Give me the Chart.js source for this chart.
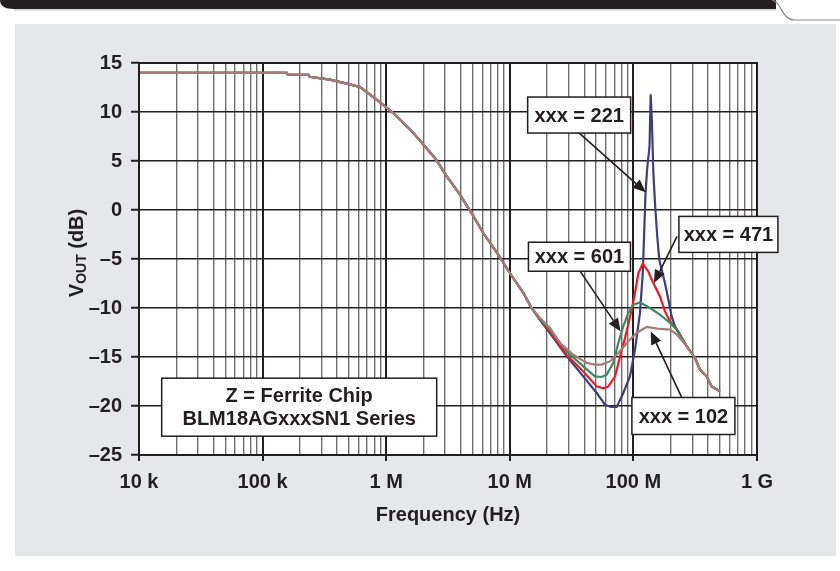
<!DOCTYPE html>
<html>
<head>
<meta charset="utf-8">
<title>VOUT vs Frequency - BLM18AG ferrite chips</title>
<script src="https://cdn.jsdelivr.net/npm/chart.js@4.4.1/dist/chart.umd.min.js"></script>
<style>
  html, body { margin: 0; padding: 0; background: #fff; }
  #page { position: relative; width: 840px; height: 571px; overflow: hidden; }
  #panel { position: absolute; left: 15px; top: 24px; width: 821px; height: 532px; background: #e6e7e8; }
  #topbar { position: absolute; left: 0; top: 0; }
  #chart { position: absolute; left: 0; top: 0; }
</style>
</head>
<body>
<div id="page">
  <svg id="topbar" width="840" height="24">
    <path d="M0,0 H776 V9 H14 Q0,9 0,0 Z" fill="#231f20"/>
    <line x1="14" y1="10" x2="776" y2="10" stroke="#b4b4b4" stroke-width="1"/>
    <path d="M772,0 C781,1 782,20 794,20 H840" fill="none" stroke="#8a8a8a" stroke-width="1.2"/>
  </svg>
  <div id="panel"></div>
  <canvas id="chart" width="840" height="571"></canvas>
</div>
<script>
// Output level vs. frequency for four ferrite chips (BLM18AGxxxSN1 series)

const INK = '#231f20';
const FONT = '"Liberation Sans", Arial, Helvetica, sans-serif';

// axis ticks
const xTickValues = [1e4, 1e5, 1e6, 1e7, 1e8, 1e9];
const xTickLabels = ['10 k', '100 k', '1 M', '10 M', '100 M', '1 G'];
const yTickValues = [-25, -20, -15, -10, -5, 0, 5, 10, 15];

// shared low-frequency roll-off (all four curves lie on top of each other here)
const rolloffFreq = [1e4, 1.57e5, 1.6e5, 2.35e5, 2.4e5, 3.5e5, 4.8e5, 6.14e5, 8.38e5, 1.14e6,
  1.66e6, 2.48e6, 3.09e6, 3.95e6, 4.9e6, 6.1e6, 8.07e6, 1.0e7, 1.29e7, 1.5e7];
const rolloffDb = [14.0, 14.0, 13.8, 13.8, 13.6, 13.3, 12.9, 12.55, 11.26, 9.89,
  7.86, 5.31, 3.43, 1.56, -0.31, -2.35, -4.56, -6.43, -8.47, -10.0];

// shared high-frequency tail
const tailFreq = [2.7e8, 3.15e8, 3.46e8, 3.92e8, 4.3e8, 5.01e8];
const tailDb = [-13.9, -15.1, -16.3, -17.0, -18.0, -18.5];

// resonance region, per part number
const freq221 = [17.5e6, 21.1e6, 28.8e6, 39.3e6, 50.5e6, 58.9e6, 66e6, 73.3e6, 82.8e6, 93.8e6,
  103e6, 113e6, 119e6, 122.5e6, 125e6, 129e6, 135e6, 138e6, 141e6, 143e6,
  145e6, 150e6, 156e6, 162e6, 180e6, 192e6, 204e6, 217e6, 231e6];
const db221 = [-11.2, -12.55, -14.9, -16.98, -18.67, -19.87, -20.1, -20.1, -18.67, -16.98,
  -14.26, -10.5, -6.5, -2.0, 1.4, 4.1, 6.5, 11.8, 9.2, 6.5,
  3.8, 0.4, -2.7, -5.1, -7.45, -9.15, -10.86, -11.87, -12.4];

const freq471 = [17.5e6, 21.1e6, 28.8e6, 39.3e6, 50.5e6, 57.1e6, 62.7e6, 71e6, 78e6, 85.5e6,
  96.9e6, 103e6, 109.7e6, 119e6, 132e6, 145e6, 164e6, 180e6, 198e6, 224e6];
const db471 = [-11.15, -12.4, -14.77, -16.47, -18.0, -18.2, -18.0, -17.0, -14.94, -13.06,
  -10.17, -8.47, -6.43, -5.48, -6.27, -7.45, -8.82, -10.35, -11.37, -12.2];

const freq601 = [17.5e6, 21.1e6, 28.8e6, 39.3e6, 48.9e6, 55.3e6, 60.8e6, 68.8e6, 75.5e6, 82.8e6,
  91e6, 99.8e6, 113e6, 136e6, 164e6, 198e6, 224e6];
const db601 = [-11.1, -12.2, -14.43, -15.96, -16.98, -17.04, -16.8, -15.6, -13.57, -11.87,
  -10.5, -9.66, -9.43, -10.0, -10.68, -11.53, -12.2];

const freq102 = [17.5e6, 21.1e6, 25.5e6, 32.7e6, 41.9e6, 48.9e6, 55.3e6, 64.6e6, 75.5e6, 91e6,
  106e6, 128e6, 164e6, 198e6, 224e6];
const db102 = [-11.0, -12.0, -13.57, -14.77, -15.6, -15.78, -15.78, -15.45, -14.6, -13.4,
  -12.55, -11.94, -12.14, -12.2, -12.7];

// callout boxes, placed in data coordinates (frequency, dB)
const callouts = [
  { lines: ['xxx = 221'], center: [36.4e6, 9.69], w: 103, h: 36, from: [36.3e6, 7.86], tip: [125.8e6, 1.8] },
  { lines: ['xxx = 471'], center: [587e6, -2.49], w: 99, h: 36, from: [225.4e6, -2.69], tip: [146.9e6, -7.45] },
  { lines: ['xxx = 601'], center: [36.6e6, -4.77], w: 102, h: 29, from: [36.7e6, -6.16], tip: [78.9e6, -12.39] },
  { lines: ['xxx = 102'], center: [253.8e6, -21.02], w: 103, h: 37, from: [246e6, -19.12], tip: [138e6, -12.39] },
  { lines: ['Z = Ferrite Chip', 'BLM18AGxxxSN1 Series'], center: [197.7e3, -20.12], w: 275, h: 58 }
];

function buildSeries(freq, db) {
  const f = rolloffFreq.concat(freq, tailFreq);
  const v = rolloffDb.concat(db, tailDb);
  return f.map((x, i) => ({ x: x, y: v[i] }));
}

function isDecade(v) {
  const l = Math.log10(v);
  return Math.abs(l - Math.round(l)) < 1e-6;
}

// every 1..9 multiple inside the decades, used only for the grid
function logGridValues() {
  const vals = [];
  for (let d = 4; d < 9; d++) {
    for (let m = 1; m < 10; m++) vals.push(m * Math.pow(10, d));
  }
  vals.push(1e9);
  return vals;
}

// white plot background, frame, axis titles and callouts
const decorPlugin = {
  id: 'decor',
  beforeDraw(chart) {
    const { ctx, chartArea: a } = chart;
    ctx.save();
    ctx.fillStyle = '#fff';
    ctx.fillRect(a.left, a.top, a.right - a.left, a.bottom - a.top);
    ctx.restore();
  },
  afterDraw(chart) {
    const { ctx, chartArea: a, scales } = chart;
    const sx = scales.x, sy = scales.y;
    ctx.save();

    // frame
    ctx.strokeStyle = INK;
    ctx.lineWidth = 2;
    ctx.strokeRect(a.left, a.top, a.right - a.left, a.bottom - a.top);

    // x title
    ctx.fillStyle = INK;
    ctx.font = 'bold 20px ' + FONT;
    ctx.textAlign = 'center';
    ctx.textBaseline = 'middle';
    ctx.fillText('Frequency (Hz)', (a.left + a.right) / 2, 515);

    // y title with subscript
    ctx.save();
    ctx.translate(83, 253);
    ctx.rotate(-Math.PI / 2);
    ctx.textAlign = 'left';
    ctx.textBaseline = 'alphabetic';
    const big = 'bold 20px ' + FONT, small = 'bold 14px ' + FONT;
    ctx.font = big; const wV = ctx.measureText('V').width;
    ctx.font = small; const wSub = ctx.measureText('OUT').width;
    ctx.font = big; const wRest = ctx.measureText(' (dB)').width;
    let x0 = -(wV + wSub + wRest) / 2;
    ctx.font = big; ctx.fillText('V', x0, 0);
    ctx.font = small; ctx.fillText('OUT', x0 + wV, 3);
    ctx.font = big; ctx.fillText(' (dB)', x0 + wV + wSub, 0);
    ctx.restore();

    // arrows
    callouts.forEach(c => {
      if (!c.tip) return;
      const x1 = sx.getPixelForValue(c.from[0]), y1 = sy.getPixelForValue(c.from[1]);
      const x2 = sx.getPixelForValue(c.tip[0]), y2 = sy.getPixelForValue(c.tip[1]);
      const ang = Math.atan2(y2 - y1, x2 - x1);
      const headLen = 13, headW = 5.5;
      const bx = x2 - headLen * Math.cos(ang), by = y2 - headLen * Math.sin(ang);
      ctx.strokeStyle = INK;
      ctx.lineWidth = 1.6;
      ctx.beginPath();
      ctx.moveTo(x1, y1);
      ctx.lineTo(bx, by);
      ctx.stroke();
      ctx.fillStyle = INK;
      ctx.beginPath();
      ctx.moveTo(x2, y2);
      ctx.lineTo(bx + headW * Math.sin(ang), by - headW * Math.cos(ang));
      ctx.lineTo(bx - headW * Math.sin(ang), by + headW * Math.cos(ang));
      ctx.closePath();
      ctx.fill();
    });

    // boxes
    callouts.forEach(c => {
      const cx = sx.getPixelForValue(c.center[0]), cy = sy.getPixelForValue(c.center[1]);
      ctx.fillStyle = '#fff';
      ctx.fillRect(cx - c.w / 2, cy - c.h / 2, c.w, c.h);
      ctx.strokeStyle = INK;
      ctx.lineWidth = 1.5;
      ctx.strokeRect(cx - c.w / 2, cy - c.h / 2, c.w, c.h);
      ctx.fillStyle = INK;
      ctx.font = 'bold 20px ' + FONT;
      ctx.textAlign = 'center';
      ctx.textBaseline = 'middle';
      const lh = 23;
      c.lines.forEach((t, i) => {
        ctx.fillText(t, cx, cy + 1 + (i - (c.lines.length - 1) / 2) * lh);
      });
    });
    ctx.restore();
  }
};

function lineDataset(label, data, color) {
  return {
    label: label,
    data: data,
    borderColor: color,
    backgroundColor: color,
    borderWidth: 2.2,
    pointRadius: 0,
    tension: 0,
    fill: false
  };
}

function createChart() {
  new Chart(document.getElementById('chart'), {
    type: 'line',
    data: {
      datasets: [
        // first dataset is painted last, so the brown curve sits on top
        lineDataset('xxx = 102', buildSeries(freq102, db102), '#a67c79'),
        lineDataset('xxx = 601', buildSeries(freq601, db601), '#3d8a5e'),
        lineDataset('xxx = 471', buildSeries(freq471, db471), '#ed1c24'),
        lineDataset('xxx = 221', buildSeries(freq221, db221), '#3f3f7d')
      ]
    },
    options: {
      responsive: false,
      animation: false,
      layout: { padding: { left: 0, top: 63, right: 83, bottom: 0 } },
      plugins: {
        legend: { display: false },
        tooltip: { enabled: false }
      },
      scales: {
        x: {
          type: 'logarithmic',
          min: 1e4,
          max: 1e9,
          afterBuildTicks: scale => {
            scale.ticks = logGridValues().map(v => ({ value: v }));
          },
          afterFit: scale => { scale.height = 116; },
          border: { display: false },
          grid: {
            color: c => isDecade(c.tick.value) ? INK : '#6e6e6e',
            lineWidth: c => isDecade(c.tick.value) ? 2 : 1.4,
            tickColor: c => isDecade(c.tick.value) ? INK : 'rgba(0,0,0,0)',
            tickLength: 6,
            tickWidth: 2
          },
          ticks: {
            autoSkip: false,
            maxRotation: 0,
            padding: 9,
            color: INK,
            font: { family: FONT, size: 20, weight: 'bold' },
            callback: value => {
              const i = xTickValues.indexOf(value);
              return i >= 0 ? xTickLabels[i] : '';
            }
          }
        },
        y: {
          type: 'linear',
          min: yTickValues[0],
          max: yTickValues[yTickValues.length - 1],
          afterBuildTicks: scale => {
            scale.ticks = yTickValues.map(v => ({ value: v }));
          },
          afterFit: scale => { scale.width = 139; },
          border: { display: false },
          grid: {
            color: INK,
            lineWidth: 1.5,
            tickLength: 8,
            tickWidth: 2
          },
          ticks: {
            padding: 9,
            color: INK,
            font: { family: FONT, size: 20, weight: 'bold' },
            callback: value => value < 0 ? '\u2013' + Math.abs(value) : String(value)
          }
        }
      }
    },
    plugins: [decorPlugin]
  });
}

document.addEventListener('DOMContentLoaded', createChart);
</script>
</body>
</html>
